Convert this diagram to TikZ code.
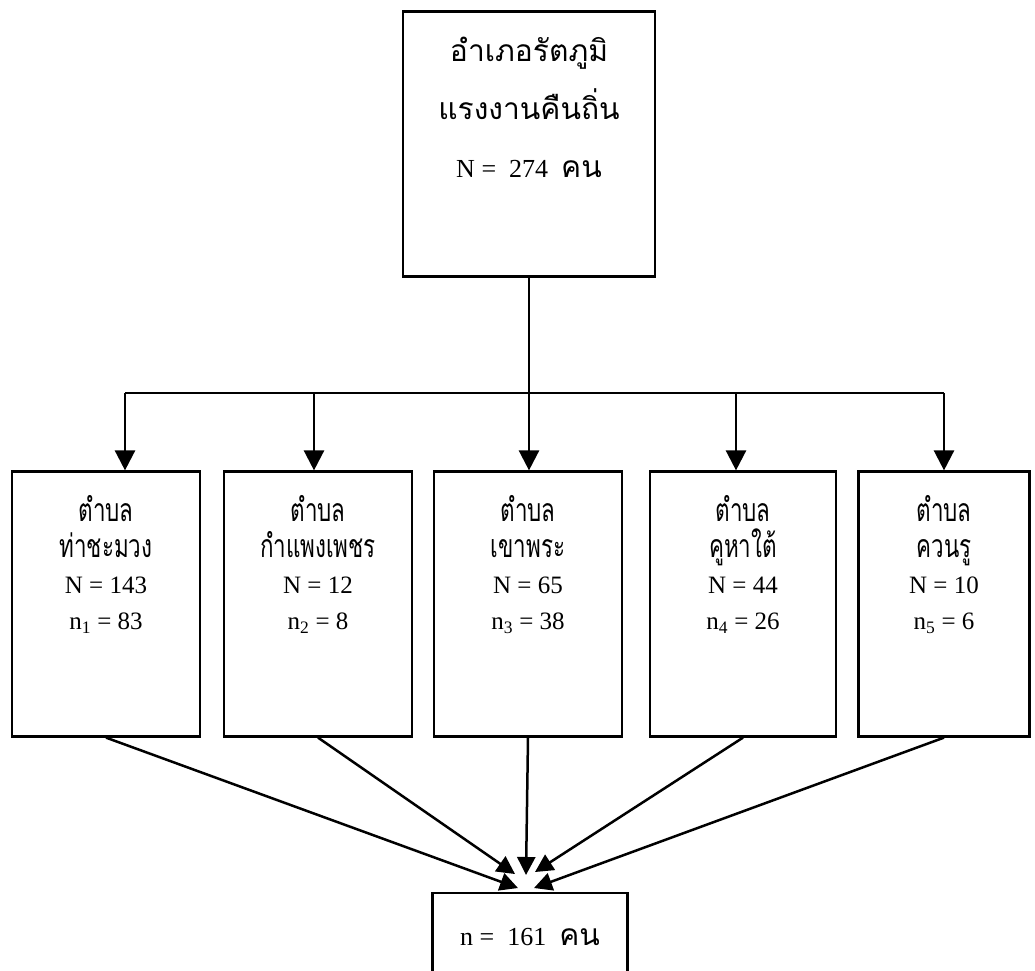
\documentclass[tikz,border=0pt]{standalone}
\usepackage{fontspec}
\setmainfont{Liberation Serif}
\newfontfamily\thaifont[Script=Thai]{Loma}
\newfontfamily\thainarrow[Script=Thai, FakeStretch=0.7]{Loma}
\usepackage{tikz}
\usetikzlibrary{positioning}
\usetikzlibrary{arrows.meta}
\newcommand{\thtxt}[1]{{\thaifont\fontsize{30}{30}\selectfont #1}}
\newcommand{\thsm}[1]{{\thainarrow\fontsize{32}{32}\selectfont #1}}

\begin{document}
\begin{tikzpicture}[x=1pt, y=-1pt,
		areabox/.style={draw, line width=2.2pt, inner sep=0pt, minimum height=265pt},
		areatext/.style={align=center, inner sep=0pt, font=\fontsize{25}{36}\selectfont},
		toptext/.style={align=center, inner sep=0pt, font=\fontsize{26}{58}\selectfont},
		link/.style={line width=2.5pt},
		flow/.style={line width=2.5pt, -{Triangle[length=20pt, width=20pt]}},
		merge/.style={line width=2.5pt, -{Triangle[length=18pt, width=18pt]}}]
		\useasboundingbox (0,0) rectangle (1035,970);
		\node[areabox, minimum width=252pt] (district) at (529,144) {};
		\node[toptext, below=26pt of district.north] (districttext) {\thtxt{อำเภอรัตภูมิ}\\\thtxt{แรงงานคืนถิ่น}\\N = ~274 ~\thtxt{คน}};
		\node[areabox, minimum width=188pt] (zone1) at (106,604) {};
		\node[areabox, minimum width=188pt] (zone2) at (318,604) {};
		\node[areabox, minimum width=188pt] (zone3) at (528,604) {};
		\node[areabox, minimum width=186pt] (zone4) at (743,604) {};
		\node[areabox, minimum width=171pt] (zone5) at (944,604) {};
		\node[areatext, below=25pt of zone1.north] (zonetext1) {\thsm{ตำบล}\\\thsm{ท่าชะมวง}\\N = 143\\n\textsubscript{1} = 83};
		\node[areatext, below=25pt of zone2.north] (zonetext2) {\thsm{ตำบล}\\\thsm{กำแพงเพชร}\\N = 12\\n\textsubscript{2} = 8};
		\node[areatext, below=25pt of zone3.north] (zonetext3) {\thsm{ตำบล}\\\thsm{เขาพระ}\\N = 65\\n\textsubscript{3} = 38};
		\node[areatext, below=25pt of zone4.north] (zonetext4) {\thsm{ตำบล}\\\thsm{คูหาใต้}\\N = 44\\n\textsubscript{4} = 26};
		\node[areatext, below=25pt of zone5.north] (zonetext5) {\thsm{ตำบล}\\\thsm{ควนรู}\\N = 10\\n\textsubscript{5} = 6};
		\node[draw, line width=2.2pt, minimum width=195pt, minimum height=88pt, font=\fontsize{26}{30}\selectfont] (total) at (530,937) {n = ~161 ~\thtxt{คน}};
		\coordinate (split1) at (125,393);
		\coordinate (split2) at (314,393);
		\coordinate (split4) at (736,393);
		\coordinate (split5) at (944,393);
		\coordinate (tip1) at (518,888);
		\coordinate (tip2) at (515,874);
		\coordinate (tip3) at (526,875);
		\coordinate (tip4) at (535,872);
		\coordinate (tip5) at (534,888);
		\draw[link] (split1) -- (split5);
		\draw[flow] (district.south) -- (district.south |- zone3.north);
		\draw[flow] (split1) -- (split1 |- zone1.north);
		\draw[flow] (split2) -- (split2 |- zone2.north);
		\draw[flow] (split4) -- (split4 |- zone4.north);
		\draw[flow] (split5) -- (split5 |- zone5.north);
		\draw[merge] (zone1.south) -- (tip1);
		\draw[merge] (zone2.south) -- (tip2);
		\draw[merge] (zone3.south) -- (tip3);
		\draw[merge] (zone4.south) -- (tip4);
		\draw[merge] (zone5.south) -- (tip5);
	\end{tikzpicture}
\end{document}
